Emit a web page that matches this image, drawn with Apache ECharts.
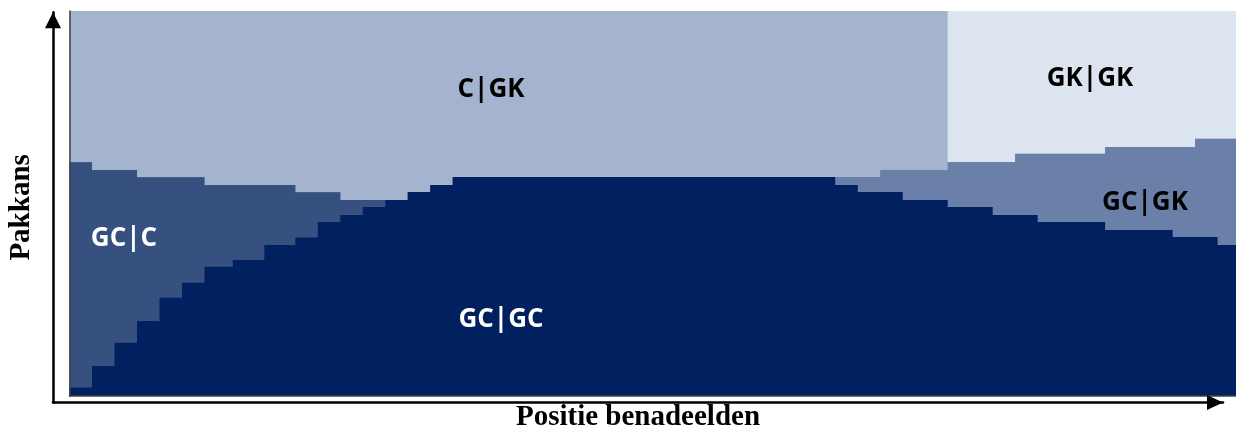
<!DOCTYPE html>
<html>
<head>
<meta charset="utf-8">
<script src="https://cdn.jsdelivr.net/npm/echarts@6/dist/echarts.min.js"></script>
<style>
html,body{margin:0;padding:0;background:#ffffff;}
#chart{width:1236px;height:425px;}
</style>
</head>
<body>
<div id="chart"></div>
<script>
// ---- data ----
// relative width of each position group on the x axis (51 groups)
const groupWidths = [1,1,1,1,1,1,1.26,1.4,1.38,1,
  1,1,1,1,1,1,1,1,1,1,
  1,1,1,1,1,1,1,1,1,1,
  1,1,1,1,1,1,1,1,1,1,
  1,1,1,1,1,1,1,1,1,1,
  1];

const seriesNames = ['GC|GC', 'GC|C', 'GC|GK', 'C|GK', 'GK|GK'];

// probability (%) per group, bottom to top
const gcgc = [2.2,7.8,13.8,19.5,25.5,29.4,33.6,35.3,39.2,41.2,
  45.2,47.0,49.1,50.9,53.0,54.8,56.9,56.9,56.9,56.9,
  56.9,56.9,56.9,56.9,56.9,56.9,56.9,56.9,56.9,56.9,
  56.9,56.9,56.9,54.8,53.0,53.0,50.9,50.9,49.1,49.1,
  47.0,47.0,45.2,45.2,45.2,43.1,43.1,43.1,41.3,41.3,
  39.2];
const gcc = [58.5,50.9,44.9,37.3,31.3,27.4,21.2,19.5,15.6,11.7,
  7.7,3.9,1.8,0,0,0,0,0,0,0,
  0,0,0,0,0,0,0,0,0,0,
  0,0,0,0,0,0,0,0,0,0,
  0,0,0,0,0,0,0,0,0,0,
  0];
const gcgk = [0,0,0,0,0,0,0,0,0,0,
  0,0,0,0,0,0,0,0,0,0,
  0,0,0,0,0,0,0,0,0,0,
  0,0,0,2.1,3.9,5.7,7.8,7.8,11.7,11.7,
  13.8,15.9,17.7,17.7,17.7,21.6,21.6,21.6,23.4,25.5,
  27.6];
const cgk = [39.3,41.3,41.3,43.2,43.2,43.2,45.2,45.2,45.2,47.1,
  47.1,49.1,49.1,49.1,47.0,45.2,43.1,43.1,43.1,43.1,
  43.1,43.1,43.1,43.1,43.1,43.1,43.1,43.1,43.1,43.1,
  43.1,43.1,43.1,43.1,43.1,41.3,41.3,41.3,0,0,
  0,0,0,0,0,0,0,0,0,0,
  0];
const gkgk = [0,0,0,0,0,0,0,0,0,0,
  0,0,0,0,0,0,0,0,0,0,
  0,0,0,0,0,0,0,0,0,0,
  0,0,0,0,0,0,0,0,39.2,39.2,
  39.2,37.1,37.1,37.1,37.1,35.3,35.3,35.3,35.3,33.2,
  33.2];

const xAxisName = 'Positie benadeelden';
const yAxisName = 'Pakkans';

// ---- build options ----
const valuesList = [gcgc, gcc, gcgk, cgk, gkgk];
const colors = ['#002060', '#36517f', '#6b80a8', '#a4b4ce', '#dce4ef'];

const edges = [0];
groupWidths.forEach(w => edges.push(edges[edges.length - 1] + w));
const totalWidth = edges[edges.length - 1];

// cumulative tops (stack), drawn from top layer down so each lower layer paints over
const cumulative = [];
let running = groupWidths.map(() => 0);
valuesList.forEach(vals => {
  running = running.map((r, i) => r + vals[i]);
  cumulative.push(running.slice());
});

const series = [];
for (let k = valuesList.length - 1; k >= 0; k--) {
  const tops = cumulative[k];
  const pts = tops.map((v, i) => [edges[i], v]);
  pts.push([edges[edges.length - 1], tops[tops.length - 1]]);
  series.push({
    type: 'line',
    name: seriesNames[k],
    xAxisIndex: 0,
    yAxisIndex: 0,
    data: pts,
    step: 'end',
    symbol: 'none',
    showSymbol: false,
    silent: true,
    lineStyle: { width: 0, opacity: 0 },
    itemStyle: { color: colors[k] },
    areaStyle: { color: colors[k], opacity: 1, origin: 'start' },
    emphasis: { disabled: true },
    z: 2
  });
}

const labelFont = 'bold 26px "Open Sans"';
const hidden = { axisTick: { show: false }, axisLabel: { show: false }, splitLine: { show: false } };
const nameStyle = { fontFamily: 'Liberation Serif', fontWeight: 'bold', fontSize: 29, color: '#000' };

const option = {
  animation: false,
  backgroundColor: '#ffffff',
  grid: [
    { left: 69.5, top: 11, width: 1170.5, height: 385, outerBoundsMode: 'none', containLabel: false },
    { left: 53, top: 12.3, right: 13, bottom: 22.5, outerBoundsMode: 'none', containLabel: false }
  ],
  xAxis: [
    Object.assign({ gridIndex: 0, type: 'value', min: 0, max: totalWidth, z: 10,
      axisLine: { show: true, onZero: false, lineStyle: { color: '#404040', width: 1.5 } } }, hidden),
    Object.assign({ gridIndex: 1, type: 'value', min: 0, max: 1, z: 10,
      name: xAxisName, nameLocation: 'middle', nameGap: 1, nameTextStyle: nameStyle,
      axisLine: { show: true, onZero: false, symbol: ['none', 'triangle'], symbolSize: [15, 16], symbolOffset: [0, -8],
        lineStyle: { color: '#000', width: 2.5 } } }, hidden)
  ],
  yAxis: [
    Object.assign({ gridIndex: 0, type: 'value', min: 0, max: 100, z: 10,
      axisLine: { show: true, onZero: false, lineStyle: { color: '#404040', width: 1.5 } } }, hidden),
    Object.assign({ gridIndex: 1, type: 'value', min: 0, max: 1, z: 10,
      name: yAxisName, nameLocation: 'middle', nameGap: 17, nameRotate: 90, nameTextStyle: nameStyle,
      axisLine: { show: true, onZero: false, symbol: ['none', 'triangle'], symbolSize: [16, 16], symbolOffset: [0, -8],
        lineStyle: { color: '#000', width: 2.5 } } }, hidden)
  ],
  series: series,
  graphic: [
    { type: 'text', z: 100, x: 491, y: 90, style: { text: seriesNames[3], fill: '#000', font: labelFont, align: 'center', verticalAlign: 'middle' } },
    { type: 'text', z: 100, x: 124, y: 239, style: { text: seriesNames[1], fill: '#fff', font: labelFont, align: 'center', verticalAlign: 'middle' } },
    { type: 'text', z: 100, x: 501, y: 320, style: { text: seriesNames[0], fill: '#fff', font: labelFont, align: 'center', verticalAlign: 'middle' } },
    { type: 'text', z: 100, x: 1090, y: 79, style: { text: seriesNames[4], fill: '#000', font: labelFont, align: 'center', verticalAlign: 'middle' } },
    { type: 'text', z: 100, x: 1145, y: 203, style: { text: seriesNames[2], fill: '#000', font: labelFont, align: 'center', verticalAlign: 'middle' } }
  ]
};

const chart = echarts.init(document.getElementById('chart'), null, { renderer: 'canvas' });
chart.setOption(option);
</script>
</body>
</html>
